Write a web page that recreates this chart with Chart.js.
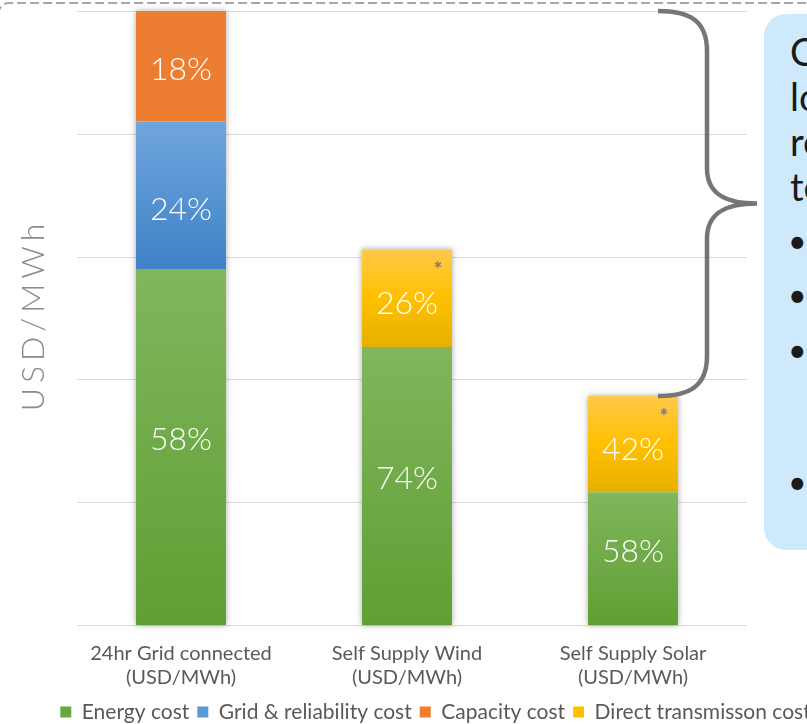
<!DOCTYPE html>
<html>
<head>
<meta charset="utf-8">
<script src="https://cdn.jsdelivr.net/npm/chart.js@4.4.1/dist/chart.umd.min.js"></script>
<style>
  html, body { margin: 0; padding: 0; background: #fff; overflow: hidden; }
  #pagina { position: relative; width: 807px; height: 724px; overflow: hidden; }
  #grafico { position: absolute; left: 0; top: 0; width: 871px; height: 740px; }
  #nota {
    position: absolute; left: 764px; top: 14px; width: 300px; height: 536px;
    background: #cde9fb; border-radius: 22px;
    font-family: Lato, sans-serif; color: #1a1a1a;
  }
  #nota p { margin: 0; padding: 15px 0 0 26px; font-size: 38px; line-height: 45px; white-space: nowrap; }
  #nota .marcador { position: absolute; left: 24px; font-size: 32px; line-height: 1; }
</style>
</head>
<body>
<div id="pagina">
  <div id="grafico"><canvas id="barChart"></canvas></div>
  <div id="nota">
    <p>C<br>lo<br>re<br>te</p>
    <span class="marcador" style="top:211px">•</span>
    <span class="marcador" style="top:265px">•</span>
    <span class="marcador" style="top:320px">•</span>
    <span class="marcador" style="top:452px">•</span>
  </div>
</div>
<script>
  const LARGURA = 871;

  const categorias = [
    ['24hr Grid connected', '(USD/MWh)'],
    ['Self Supply Wind', '(USD/MWh)'],
    ['Self Supply Solar', '(USD/MWh)']
  ];
  // custo total de cada coluna (a primeira = 100)
  const totais = [100, 61.2, 37.3];
  // participacao de cada componente no total (%)
  const energia = [58, 74, 58];
  const redeConfiab = [24, null, null];
  const capacidade = [18, null, null];
  const transmissao = [null, 26, 42];
  // colunas com asterisco
  const asterisco = [false, true, true];
  // linhas de grade do eixo Y
  const linhasGrade = [0, 20, 40, 60, 80, 100];

  const paraValor = partes => partes.map((p, i) => p == null ? null : totais[i] * p / 100);

  /* degrade vertical em cada segmento da coluna */
  function degrade(paradas) {
    return c => {
      const chart = c.chart;
      const y = chart.scales.y;
      if (c.type !== 'data' || !chart.chartArea || !y) return paradas[0][1];
      const i = c.dataIndex;
      const v = chart.data.datasets[c.datasetIndex].data[i];
      if (v == null) return paradas[0][1];
      let base = 0;
      for (let d = 0; d < c.datasetIndex; d++) base += chart.data.datasets[d].data[i] || 0;
      const g = chart.ctx.createLinearGradient(0, y.getPixelForValue(base + v), 0, y.getPixelForValue(base));
      paradas.forEach(([pos, cor]) => g.addColorStop(pos, cor));
      return g;
    };
  }

  const extras = {
    id: 'extras',
    beforeDatasetsDraw(chart) {
      const { ctx } = chart;
      const y = chart.scales.y;
      ctx.save();
      // grade
      ctx.strokeStyle = '#d9d9d9';
      ctx.lineWidth = 1;
      linhasGrade.forEach(v => {
        const py = Math.round(y.getPixelForValue(v)) + 0.5;
        ctx.beginPath();
        ctx.moveTo(chart.chartArea.left + 9, py);
        ctx.lineTo(chart.chartArea.right + 1, py);
        ctx.stroke();
      });
      // sombra das colunas
      categorias.forEach((_, i) => {
        let topo = Infinity, fundo = -Infinity, x = 0, w = 0;
        chart.data.datasets.forEach((ds, d) => {
          if (ds.data[i] == null) return;
          const el = chart.getDatasetMeta(d).data[i];
          topo = Math.min(topo, el.y);
          fundo = Math.max(fundo, el.base);
          x = el.x;
          w = el.width;
        });
        ctx.save();
        ctx.shadowColor = 'rgba(0,0,0,0.35)';
        ctx.shadowBlur = 6;
        ctx.fillStyle = '#fff';
        ctx.fillRect(x - w / 2, topo, w, fundo - topo);
        ctx.restore();
      });
      ctx.restore();
    },
    afterDatasetsDraw(chart) {
      const { ctx } = chart;
      ctx.save();
      // rotulos de percentual
      ctx.font = '300 32px Lato';
      ctx.fillStyle = '#ffffff';
      ctx.textAlign = 'center';
      ctx.textBaseline = 'middle';
      chart.data.datasets.forEach((ds, d) => {
        ds.partes.forEach((p, i) => {
          if (p == null) return;
          const el = chart.getDatasetMeta(d).data[i];
          ctx.fillText(p + '%', el.x, (el.y + el.base) / 2 + ds.deslocRotulo);
        });
      });
      // asteriscos na transmissao direta
      ctx.font = 'bold 21px Lato';
      ctx.fillStyle = '#7a7a7a';
      ctx.textBaseline = 'alphabetic';
      const meta = chart.getDatasetMeta(3);
      asterisco.forEach((tem, i) => {
        if (!tem) return;
        const el = meta.data[i];
        ctx.fillText('*', el.x + el.width / 2 - 14, el.y + 28);
      });
      ctx.restore();
    },
    afterDraw(chart) {
      const { ctx, chartArea } = chart;
      const y = chart.scales.y;
      ctx.save();

      // titulo do eixo Y
      ctx.translate(34, (chartArea.top + chartArea.bottom) / 2);
      ctx.rotate(-Math.PI / 2);
      ctx.font = '300 32px Lato';
      ctx.letterSpacing = '5px';
      ctx.fillStyle = '#8a8a8a';
      ctx.textAlign = 'center';
      ctx.textBaseline = 'middle';
      ctx.fillText('USD/MWh', 3, 0);
      ctx.setTransform(1, 0, 0, 1, 0, 0);
      ctx.letterSpacing = '0px';

      // chave entre o topo da 1a e da 3a coluna
      const topo = y.getPixelForValue(totais[0]);
      const fundo = y.getPixelForValue(totais[2]);
      const meio = (topo + fundo) / 2;
      ctx.strokeStyle = '#767676';
      ctx.lineWidth = 4.5;
      ctx.beginPath();
      ctx.moveTo(658, topo);
      ctx.bezierCurveTo(690, topo, 707, topo + 10, 707, topo + 40);
      ctx.lineTo(707, meio - 35);
      ctx.bezierCurveTo(707, meio - 8, 728, meio, 757, meio);
      ctx.bezierCurveTo(728, meio, 707, meio + 8, 707, meio + 35);
      ctx.lineTo(707, fundo - 40);
      ctx.bezierCurveTo(707, fundo - 10, 690, fundo, 658, fundo);
      ctx.stroke();

      // moldura tracejada
      ctx.strokeStyle = '#a6a6a6';
      ctx.lineWidth = 2;
      ctx.setLineDash([9, 4]);
      ctx.beginPath();
      ctx.moveTo(-1.3, 80);
      ctx.lineTo(-1.3, 13);
      ctx.arc(8.7, 13, 10, Math.PI, 1.5 * Math.PI);
      ctx.lineTo(LARGURA, 3);
      ctx.stroke();
      ctx.restore();
    }
  };

  document.addEventListener('DOMContentLoaded', () => {
    const ctx = document.getElementById('barChart').getContext('2d');

    new Chart(ctx, {
      type: 'bar',
      data: {
        labels: categorias,
        datasets: [{
            label: 'Energy cost',
            partes: energia,
            data: paraValor(energia),
            corLegenda: '#66a73e',
            deslocRotulo: -7,
            backgroundColor: degrade([[0, '#80b65d'], [1, '#5f9f33']])
          },
          {
            label: 'Grid & reliability cost',
            partes: redeConfiab,
            data: paraValor(redeConfiab),
            corLegenda: '#5b9bd5',
            deslocRotulo: 14,
            backgroundColor: degrade([[0, '#6fa5dc'], [1, '#3f82c7']])
          },
          {
            label: 'Capacity cost',
            partes: capacidade,
            data: paraValor(capacidade),
            corLegenda: '#ed7d31',
            deslocRotulo: 3,
            backgroundColor: degrade([[0, '#ed7d31'], [1, '#ed7d31']])
          },
          {
            label: 'Direct transmisson cost',
            partes: transmissao,
            data: paraValor(transmissao),
            corLegenda: '#ffc000',
            deslocRotulo: 6,
            backgroundColor: degrade([[0, '#ffc94a'], [0.5, '#ffc000'], [1, '#e6b000']])
          }
        ]
      },
      options: {
        responsive: true,
        maintainAspectRatio: false,
        animation: false,
        layout: {
          padding: { top: 11, left: 0, right: 0, bottom: 7.5 }
        },
        datasets: {
          bar: {
            barPercentage: 0.398,
            categoryPercentage: 1,
            borderWidth: 0
          }
        },
        scales: {
          x: {
            stacked: true,
            grid: { display: false },
            border: { display: false },
            ticks: {
              color: '#595959',
              font: { family: 'Lato', size: 20, lineHeight: 1.2 },
              padding: 9,
              maxRotation: 0
            },
            afterFit: s => { s.height = 68.5; }
          },
          y: {
            stacked: true,
            min: 0,
            max: 100,
            grid: { display: false },
            border: { display: false },
            ticks: { display: false, stepSize: 20 },
            afterFit: s => { s.width = 68; }
          },
          direita: {
            type: 'linear',
            position: 'right',
            grid: { display: false },
            border: { display: false },
            ticks: { display: false },
            afterFit: s => { s.width = LARGURA - 746; }
          }
        },
        plugins: {
          tooltip: { enabled: false },
          legend: {
            position: 'bottom',
            labels: {
              color: '#595959',
              font: { family: 'Lato', size: 21 },
              boxWidth: 11,
              boxHeight: 11,
              padding: 8,
              generateLabels: chart => chart.data.datasets.map((ds, i) => ({
                text: ds.label,
                fillStyle: ds.corLegenda,
                strokeStyle: ds.corLegenda,
                fontColor: '#595959',
                lineWidth: 0,
                hidden: false,
                datasetIndex: i
              }))
            }
          }
        }
      },
      plugins: [extras]
    });
  });
</script>
</body>
</html>
